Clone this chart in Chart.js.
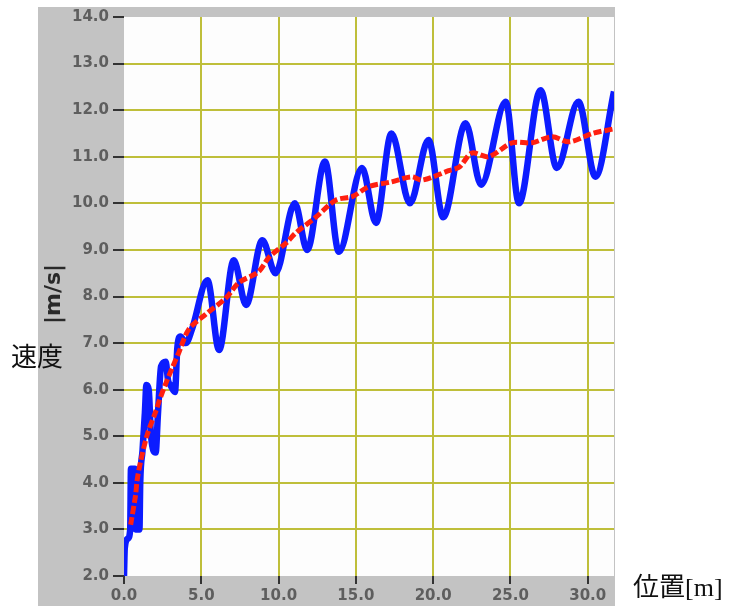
<!DOCTYPE html>
<html>
<head>
<meta charset="utf-8">
<script src="https://cdn.jsdelivr.net/npm/chart.js@4"></script>
<style>
html,body{margin:0;padding:0;background:#fff;}
#wrap{width:746px;height:606px;}
</style>
</head>
<body>
<div id="wrap"><canvas id="c" width="746" height="606"></canvas></div>
<script>
// Blue: measured speed (position [m], speed [m/s])
const bluePos = [0,0.05,0.25,0.4,0.45,0.7,0.75,1.0,1.05,1.2,1.35,1.45,1.6,1.75,2.05,2.2,2.4,2.7,2.85,3.0,3.3,3.45,3.65,4.0,4.4,5.4,6.15,7.1,7.9,8.95,9.8,11.05,11.85,13.0,13.9,15.4,16.3,17.3,18.5,19.7,20.65,22.1,23.1,24.7,25.55,26.95,28.0,29.4,30.5,31.7];
const blueSpeed = [2.0,2.6,2.8,3.0,4.3,4.3,3.0,3.0,4.0,4.7,5.5,6.1,6.0,5.0,4.65,5.5,6.5,6.6,6.2,6.1,5.95,6.9,7.14,7.0,7.3,8.35,6.85,8.78,7.82,9.21,8.5,10.0,9.0,10.9,8.96,10.76,9.58,11.5,10.0,11.36,9.7,11.72,10.4,12.18,10.0,12.43,10.76,12.18,10.57,12.4];
// Red: smoothed speed
const redPos = [0.43,0.75,0.85,1.07,1.5,2.05,2.3,2.7,3.1,3.55,4.2,5.3,6.6,7.44,8.7,9.4,10.5,11.1,12.4,13.7,14.8,15.85,17.3,18.6,19.3,21.0,21.7,22.5,23.6,25.1,26.4,27.7,28.8,30.3,31.7];
const redSpeed = [3.1,3.74,4.06,4.45,5.03,5.53,5.78,6.13,6.45,6.8,7.3,7.62,7.97,8.3,8.53,8.85,9.15,9.36,9.7,10.07,10.15,10.36,10.46,10.57,10.5,10.7,10.78,11.08,11.0,11.3,11.3,11.43,11.32,11.5,11.6];
const xTickLabels = ['0.0','5.0','10.0','15.0','20.0','25.0','30.0'];
const yTickLabels = ['2.0','3.0','4.0','5.0','6.0','7.0','8.0','9.0','10.0','11.0','12.0','13.0','14.0'];
const yUnit = '|m/s|';
const yName = '速度';
const xName = '位置[m]';

const toPts = (xs, ys) => xs.map((x, i) => ({x: x, y: ys[i]}));
const GRID = '#bfbf3a';
const TICKFONT = {family: 'DejaVu Sans', size: 15, weight: 'bold'};
const TICKCOLOR = '#5e5e5e';

const bgPlugin = {
  id: 'bg',
  beforeDraw(chart) {
    const ctx = chart.ctx, a = chart.chartArea;
    ctx.save();
    ctx.fillStyle = '#c3c3c3';
    ctx.fillRect(38, 7, a.right - 38 + 1, 606 - 7);
    ctx.fillStyle = '#fdfdfd';
    ctx.fillRect(a.left, a.top, a.right - a.left, a.bottom - a.top);
    ctx.restore();
  },
  afterDraw(chart) {
    const ctx = chart.ctx;
    ctx.save();
    ctx.fillStyle = '#2a2a2a';
    ctx.textBaseline = 'middle';
    ctx.translate(54, 294);
    ctx.rotate(-Math.PI / 2);
    ctx.textAlign = 'center';
    ctx.font = 'bold 22px "DejaVu Sans"';
    ctx.fillText(yUnit, 0, 0);
    ctx.restore();
    ctx.save();
    ctx.fillStyle = '#111';
    ctx.textBaseline = 'middle';
    ctx.textAlign = 'left';
    ctx.font = '26px "Noto Sans CJK JP"';
    ctx.fillText(yName, 11, 356);
    ctx.font = '26px "Liberation Serif", "Noto Sans CJK JP"';
    ctx.fillText(xName, 633, 589);
    ctx.restore();
  }
};

new Chart(document.getElementById('c'), {
  type: 'line',
  data: {
    datasets: [
      {
        data: toPts(redPos, redSpeed),
        borderColor: '#ff2010',
        borderWidth: 5,
        borderDash: [8, 3],
        pointRadius: 0,
        tension: 0.3,
        fill: false
      },
      {
        data: toPts(bluePos, blueSpeed),
        borderColor: '#0c1cff',
        borderWidth: 6.5,
        pointRadius: 0,
        cubicInterpolationMode: 'monotone',
        fill: false
      }
    ]
  },
  plugins: [bgPlugin],
  options: {
    responsive: false,
    animation: false,
    devicePixelRatio: 1,
    layout: {padding: {left: 38, top: 17, right: 132, bottom: 0}},
    plugins: {legend: {display: false}, tooltip: {enabled: false}},
    scales: {
      x: {
        type: 'linear',
        min: 0,
        max: 31.7,
        afterBuildTicks(scale) {
          scale.ticks = xTickLabels.map(t => ({value: parseFloat(t)}));
        },
        afterFit(scale) { scale.height = 30; },
        ticks: {
          callback: (v) => Number(v).toFixed(1),
          font: TICKFONT,
          color: TICKCOLOR,
          padding: 3,
          maxRotation: 0,
          autoSkip: false
        },
        grid: {
          color: (c) => (c.tick && c.tick.value === 0) ? 'rgba(0,0,0,0)' : GRID,
          lineWidth: 2,
          tickLength: 8,
          tickColor: '#333',
          tickWidth: 2
        },
        border: {display: false}
      },
      y: {
        min: 2,
        max: 14,
        afterBuildTicks(scale) {
          scale.ticks = yTickLabels.map(t => ({value: parseFloat(t)}));
        },
        afterFit(scale) { scale.width = 86; },
        ticks: {
          callback: (v) => Number(v).toFixed(1),
          font: TICKFONT,
          color: TICKCOLOR,
          padding: 4,
          autoSkip: false
        },
        grid: {
          color: (c) => (c.tick && (c.tick.value === 2 || c.tick.value === 14)) ? 'rgba(0,0,0,0)' : GRID,
          lineWidth: 2,
          tickLength: 11,
          tickColor: '#333',
          tickWidth: 2
        },
        border: {display: false}
      }
    }
  }
});
</script>
</body>
</html>
